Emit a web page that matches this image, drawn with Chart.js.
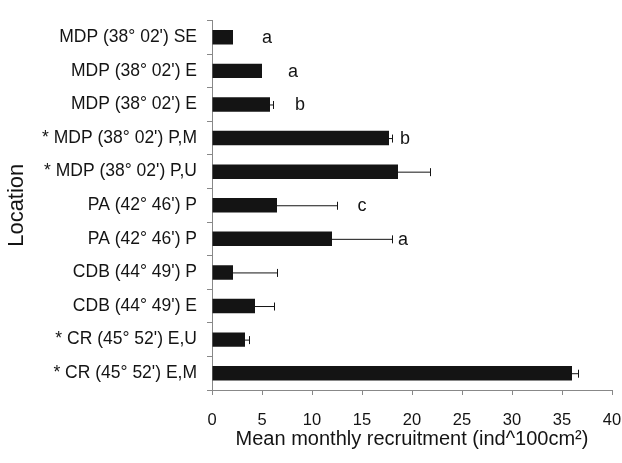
<!DOCTYPE html>
<html>
<head>
<meta charset="utf-8">
<script src="https://cdn.jsdelivr.net/npm/chart.js@4/dist/chart.umd.min.js"></script>
<style>
  html, body { margin: 0; padding: 0; background: #fff; }
  #wrap { width: 622px; height: 463px; }
</style>
</head>
<body>
<div id="wrap"><canvas id="chart"></canvas></div>
<script>
const locations = [
  "MDP (38° 02') SE",
  "MDP (38° 02') E",
  "MDP (38° 02') E",
  "* MDP (38° 02') P,M",
  "* MDP (38° 02') P,U",
  "PA (42° 46') P",
  "PA (42° 46') P",
  "CDB (44° 49') P",
  "CDB (44° 49') E",
  "* CR (45° 52') E,U",
  "* CR (45° 52') E,M"
];
const recruitment = [2.1, 5.0, 5.8, 17.7, 18.6, 6.5, 12.0, 2.1, 4.3, 3.3, 36.0];
const errors = [0, 0, 0.3, 0.3, 3.2, 6.0, 6.0, 4.4, 1.9, 0.4, 0.6];
const letters = ['a', 'a', 'b', 'b', '', 'c', 'a', '', '', '', ''];
const letterX = [5.5, 8.1, 8.8, 19.3, 0, 15.0, 19.1, 0, 0, 0, 0];
const xTicks = [0, 5, 10, 15, 20, 25, 30, 35, 40];

const ink = '#141414';
const font = 'Liberation Sans, Arial, sans-serif';

// error bars + significance letters
const extras = {
  id: 'extras',
  afterDatasetsDraw(chart) {
    const ctx = chart.ctx;
    const x = chart.scales.x, y = chart.scales.y;
    ctx.save();
    ctx.strokeStyle = ink;
    ctx.lineWidth = 1;
    recruitment.forEach((v, i) => {
      const yc = y.getPixelForValue(i);
      if (errors[i] > 0) {
        const x0 = x.getPixelForValue(v);
        const x1 = x.getPixelForValue(v + errors[i]);
        ctx.beginPath();
        ctx.moveTo(x0, yc + 0.5);
        ctx.lineTo(x1, yc + 0.5);
        ctx.moveTo(Math.round(x1) + 0.5, yc - 3.5);
        ctx.lineTo(Math.round(x1) + 0.5, yc + 4.5);
        ctx.stroke();
      }
      if (letters[i]) {
        ctx.fillStyle = ink;
        ctx.font = '18px ' + font;
        ctx.textAlign = 'center';
        ctx.textBaseline = 'middle';
        ctx.fillText(letters[i], x.getPixelForValue(letterX[i]), yc + 1);
      }
    });
    ctx.restore();
  }
};

new Chart(document.getElementById('chart'), {
  type: 'bar',
  data: {
    labels: locations,
    datasets: [{
      data: recruitment,
      backgroundColor: ink,
      borderWidth: 0,
      barPercentage: 0.43,
      categoryPercentage: 1
    }]
  },
  options: {
    indexAxis: 'y',
    responsive: true,
    maintainAspectRatio: false,
    animation: false,
    layout: { padding: { top: 5, right: 0, left: 0, bottom: 12 } },
    plugins: {
      legend: { display: false },
      tooltip: { enabled: false }
    },
    scales: {
      x: {
        min: 0,
        max: 40,
        afterBuildTicks: s => { s.ticks = xTicks.map(v => ({ value: v })); },
        afterFit: s => { s.height = 61; s.paddingRight = 10; s.paddingLeft = 0; },
        grid: { display: true, drawOnChartArea: false, drawTicks: true, tickLength: 5, color: '#888' },
        border: { display: true, color: '#888', width: 1 },
        ticks: { color: ink, font: { family: font, size: 16.5 }, padding: 16, maxRotation: 0 },
        title: {
          display: true,
          text: 'Mean monthly recruitment (ind^100cm²)',
          color: ink,
          font: { family: font, size: 20 },
          padding: { top: 0, bottom: 0 }
        }
      },
      y: {
        afterFit: s => { s.width = 212; },
        grid: { display: true, drawOnChartArea: false, drawTicks: true, tickLength: 5, color: '#888', offset: true },
        border: { display: true, color: '#888', width: 1 },
        ticks: { color: ink, font: { family: font, size: 17.5 }, padding: 10 },
        title: {
          display: true,
          text: 'Location',
          color: ink,
          font: { family: font, size: 22 },
          padding: { top: 4, bottom: 0 }
        }
      }
    }
  },
  plugins: [extras]
});
</script>
</body>
</html>
